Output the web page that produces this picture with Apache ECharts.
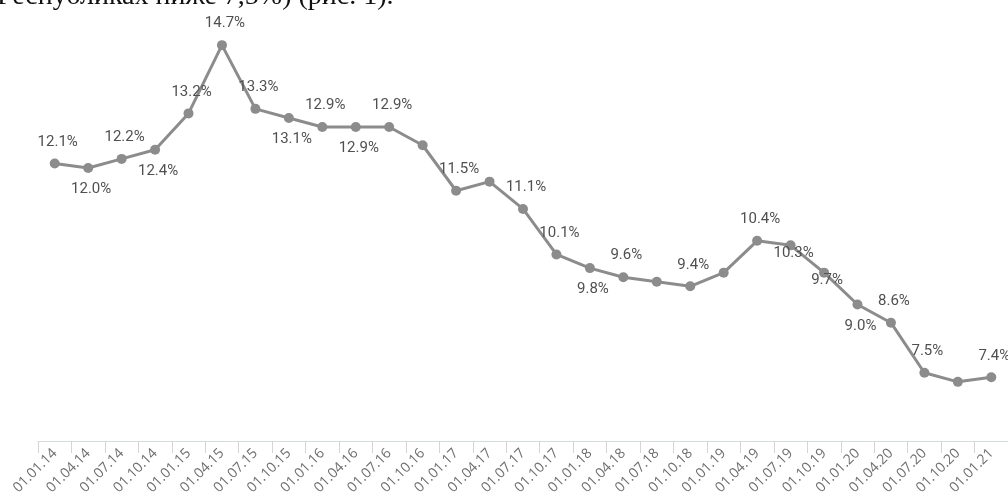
<!DOCTYPE html>
<html>
<head>
<meta charset="utf-8">
<script src="https://cdn.jsdelivr.net/npm/echarts@6/dist/echarts.min.js"></script>
<style>
  html, body { margin: 0; padding: 0; background: #fff; }
  #chart { width: 1008px; height: 501px; }
</style>
</head>
<body>
<div id="chart"></div>
<script>
// Quarterly dates
const categories = [
  '01.01.14', '01.04.14', '01.07.14', '01.10.14',
  '01.01.15', '01.04.15', '01.07.15', '01.10.15',
  '01.01.16', '01.04.16', '01.07.16', '01.10.16',
  '01.01.17', '01.04.17', '01.07.17', '01.10.17',
  '01.01.18', '01.04.18', '01.07.18', '01.10.18',
  '01.01.19', '01.04.19', '01.07.19', '01.10.19',
  '01.01.20', '01.04.20', '01.07.20', '01.10.20',
  '01.01.21'
];

// Share, %
const values = [
  12.1, 12.0, 12.2, 12.4,
  13.2, 14.7, 13.3, 13.1,
  12.9, 12.9, 12.9, 12.5,
  11.5, 11.7, 11.1, 10.1,
  9.8, 9.6, 9.5, 9.4,
  9.7, 10.4, 10.3, 9.7,
  9.0, 8.6, 7.5, 7.3,
  7.4
];

// Where each value label sits: above / below / over the point, or hidden
const labelSide = [
  'above', 'below', 'above', 'below',
  'above', 'above', 'above', 'below',
  'above', 'below', 'above', 'none',
  'above', 'none', 'above', 'above',
  'below', 'above', 'none', 'above',
  'none', 'above', 'over', 'over',
  'below', 'above', 'above', 'none',
  'above'
];

const headerText = 'Республиках ниже 7,5%) (рис. 1).';

const labelFont = {
  fontFamily: 'Roboto, "Liberation Sans", sans-serif',
  fontSize: 15,
  color: '#505050'
};

const labelFor = (side) => {
  if (side === 'none') return { show: false };
  if (side === 'over') return { show: true, position: 'inside', offset: [3, 8], ...labelFont };
  return {
    show: true,
    position: side === 'above' ? 'top' : 'bottom',
    distance: 9,
    offset: [3, 0],
    ...labelFont
  };
};

const seriesData = values.map((v, i) => ({ value: v, label: labelFor(labelSide[i]) }));

const chart = echarts.init(document.getElementById('chart'), null, { renderer: 'canvas' });

chart.setOption({
  backgroundColor: '#ffffff',
  animation: false,
  graphic: [{
    type: 'text',
    left: -3,
    top: -17,
    style: {
      text: headerText,
      font: '28px "Liberation Serif", serif',
      fill: '#111111'
    }
  }],
  grid: { left: 38, top: 31.5, width: 971.5, height: 409.5, containLabel: false },
  xAxis: {
    type: 'category',
    data: categories,
    boundaryGap: true,
    axisLine: { show: true, lineStyle: { color: '#d6dcdc', width: 1 } },
    axisTick: { show: true, length: 12, lineStyle: { color: '#d4d4d4', width: 1 } },
    axisLabel: {
      rotate: 45,
      interval: 0,
      margin: 10,
      fontFamily: '"Open Sans", Roboto, sans-serif',
      fontSize: 14,
      color: '#6e6e6e'
    },
    splitLine: { show: false }
  },
  yAxis: {
    type: 'value',
    min: 6,
    max: 15,
    show: false,
    splitLine: { show: false }
  },
  series: [{
    type: 'line',
    data: seriesData,
    symbol: 'circle',
    symbolSize: 10,
    itemStyle: { color: '#8c8c8c' },
    lineStyle: { color: '#8c8c8c', width: 3 },
    label: {
      formatter: (p) => p.value.toFixed(1) + '%'
    }
  }]
});
</script>
</body>
</html>
